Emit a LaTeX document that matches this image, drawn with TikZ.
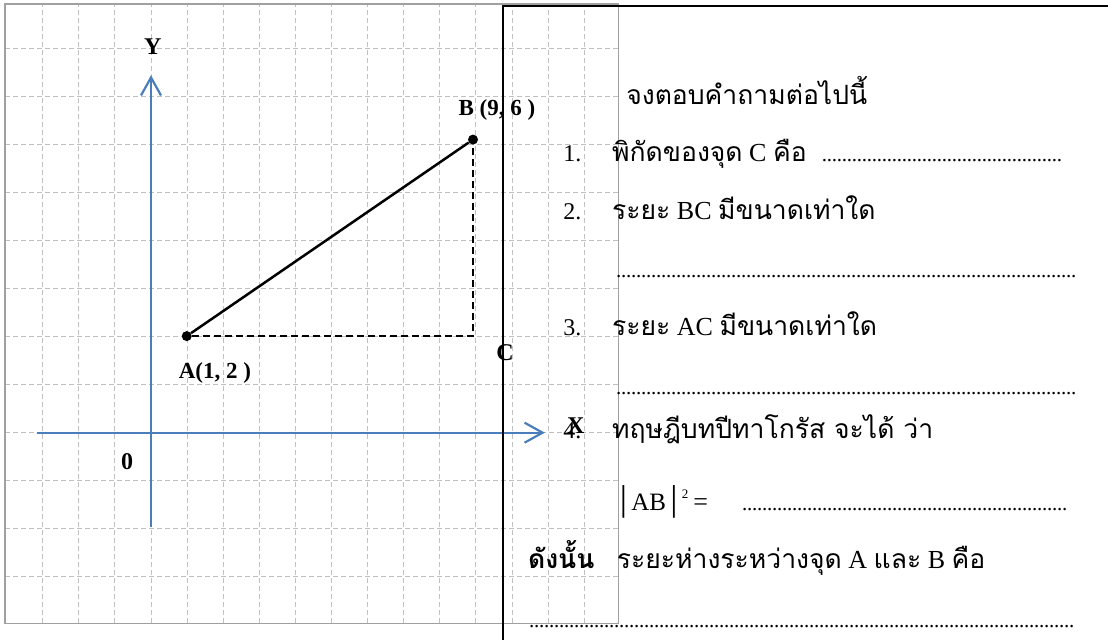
\documentclass[tikz,border=0pt]{standalone}
\usepackage{fontspec}
\setmainfont{Liberation Serif}
\newfontfamily\thaifont[Script=Thai,Scale=1.02]{Loma}
\usetikzlibrary{arrows.meta}
\definecolor{axisblue}{HTML}{4A7EBB}
\definecolor{gridgray}{HTML}{C0C0C0}
\definecolor{boxgray}{HTML}{A0A0A0}
\newcommand{\dotrow}[1]{{\fontsize{21}{21}\selectfont\makebox[#1]{\leaders\hbox to 5pt{\hss.\hss}\hfill}}}
\tikzset{
  gridline/.style={gridgray,line width=1pt,dash pattern=on 5pt off 3pt},
  axis/.style={axisblue,line width=2.3pt,-{Straight Barb[length=18pt,width=20pt,line width=2.2pt]}},
  segment/.style={line width=2.5pt},
  proj/.style={line width=2.7pt,dash pattern=on 7pt off 4pt},
  pt/.style={circle,fill,inner sep=0pt,minimum size=10pt},
  lbl/.style={font=\fontsize{24}{24}\selectfont\bfseries,inner sep=0pt},
  txt/.style={font=\fontsize{26}{28}\selectfont,anchor=base west,inner sep=0pt},
  num/.style={txt,font=\fontsize{24}{26}\selectfont},
}

\begin{document}
\begin{tikzpicture}[x=36.1pt,y=48.05pt]
  \useasboundingbox (-4.183,-4.314) rectangle (26.510,9.005);
  % squared paper
  \foreach \i in {-3,...,12}
    \draw[gridline] (\i,-3.971) -- (\i,8.922);
  \foreach \j in {-3,...,8}
    \draw[gridline] (-4.044,\j) -- (12.95,\j);
  \draw[boxgray,line width=1.5pt] (-4.044,-3.971) rectangle (12.95,8.922);

  % axes
  \coordinate (ybot) at (0,-1.96);
  \coordinate (ytop) at (0,7.44);
  \coordinate (xleft) at (-3.16,0);
  \coordinate (xright) at (10.91,0);
  \draw[axis] (ybot) -- (ytop);
  \draw[axis] (xleft) -- (xright);
  \node[lbl] (ylab) at (0.05,8.03) {Y};
  \node[lbl] (xlab) at (11.77,0.14) {X};
  \node[lbl] (olab) at (-0.66,-0.61) {0};

  % the right triangle
  \node[pt] (A) at (0.99,2.01) {};
  \node[pt] (B) at (8.92,6.1) {};
  \coordinate (C) at (8.92,2.01);
  \draw[segment] (A) -- (B);
  \draw[proj] (A) -- (C) -- (B);
  \node[lbl,font=\fontsize{23}{23}\selectfont\bfseries] (alab) at (1.77,1.24) {A(1, 2 )};
  \node[lbl,font=\fontsize{23}{23}\selectfont\bfseries] (blab) at (9.58,6.72) {B (9, 6 )};
  \node[lbl] (clab) at (9.81,1.66) {C};

  % question frame
  \draw[line width=2.2pt] (9.742,-4.6) |- (26.8,8.88);

  \node[txt] (q0) at (13.16,6.82) {\thaifont จงตอบคำถามต่อไปนี้};
  \node[num] (n1) at (11.42,5.65) {1.};
  \node[txt] (q1) at (12.77,5.65) {{\thaifont พิกัดของจุด} C {\thaifont คือ}};
  \node[txt] (d1) at (18.58,5.65) {\dotrow{243pt}};
  \node[num] (n2) at (11.42,4.43) {2.};
  \node[txt] (q2) at (12.77,4.43) {{\thaifont ระยะ} BC {\thaifont มีขนาดเท่าใด}};
  \node[txt] (d2) at (12.88,3.22) {\dotrow{460pt}};
  \node[num] (n3) at (11.42,2.03) {3.};
  \node[txt] (q3) at (12.77,2.03) {{\thaifont ระยะ} AC {\thaifont มีขนาดเท่าใด}};
  \node[txt] (d3) at (12.88,0.80) {\dotrow{460pt}};
  \node[num] (n4) at (11.42,-0.12) {4.};
  \node[txt] (q4) at (12.77,-0.12) {\thaifont ทฤษฎีบทปีทาโกรัส จะได้ ว่า};
  \node[txt] (ab) at (12.98,-1.61) {{\fontsize{36}{36}\selectfont|}\,{\fontsize{25}{25}\selectfont AB}\,{\fontsize{36}{36}\selectfont|}\,\raisebox{12pt}{\fontsize{13}{13}\selectfont 2}\hspace{5pt}=};
  \node[txt] (d4) at (16.37,-1.61) {\dotrow{326pt}};
  \node[txt] (so) at (10.44,-2.82) {\thaifont\bfseries ดังนั้น};
  \node[txt] (q5) at (12.90,-2.82) {{\thaifont ระยะห่างระหว่างจุด} A {\thaifont และ} B {\thaifont คือ}};
  \node[txt] (d5) at (10.47,-4.06) {\dotrow{546pt}};
\end{tikzpicture}
\end{document}
